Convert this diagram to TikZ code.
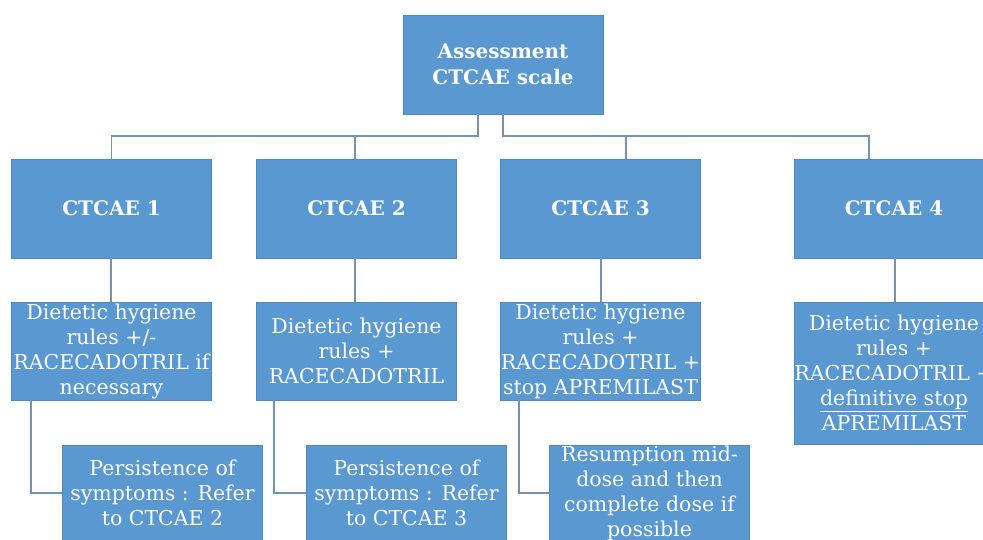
\documentclass[tikz,border=0pt]{standalone}
\usepackage{fontspec}
\setmainfont{DejaVu Serif}
\definecolor{boxblue}{HTML}{5A98D2}
\definecolor{boxedge}{HTML}{4D89C2}
\definecolor{linecol}{HTML}{7393B3}
\begin{document}
\begin{tikzpicture}[x=1pt,y=-1pt,
  box/.style={rectangle,fill=boxblue,draw=boxedge,line width=0.6pt,text=white,
    align=center,inner sep=0pt,minimum width=200pt,
    font=\fontsize{20.5}{25}\selectfont},
  hbox/.style={box,font=\fontsize{20}{26}\selectfont\bfseries},
  conn/.style={draw=linecol,line width=1.6pt}]
\useasboundingbox (0,0) rectangle (983,540);
\begin{scope}
\clip (0,0) rectangle (983,540);
% top
\node[hbox,minimum height=99pt] (top) at (503,64.5) {Assessment\\CTCAE scale};
% level 1
\node[hbox,minimum height=99pt] (c1) at (111.5,208.5) {CTCAE 1};
\node[hbox,minimum height=99pt] (c2) at (356.5,208.5) {CTCAE 2};
\node[hbox,minimum height=99pt] (c3) at (600.5,208.5) {CTCAE 3};
\node[hbox,minimum height=99pt] (c4) at (894,208.5) {CTCAE 4};
% level 2
\node[box,minimum height=98pt] (d1) at (111.5,351) {Dietetic hygiene\\rules +/-\\RACECADOTRIL if\\necessary};
\node[box,minimum height=98pt] (d2) at (356.5,351) {Dietetic hygiene\\rules +\\RACECADOTRIL};
\node[box,minimum height=98pt] (d3) at (600.5,351) {Dietetic hygiene\\rules +\\RACECADOTRIL +\\stop APREMILAST};
\node[box,minimum height=142pt] (d4) at (894,373) {Dietetic hygiene\\rules +\\RACECADOTRIL +\\\underline{definitive stop}\\APREMILAST};
% level 3
\node[box,minimum height=96pt] (e1) at (162.5,493) {Persistence of\\symptoms : Refer\\to CTCAE 2};
\node[box,minimum height=96pt] (e2) at (406.5,493) {Persistence of\\symptoms : Refer\\to CTCAE 3};
\node[box,minimum height=96pt] (e3) at (649.5,493) {Resumption mid-\\dose and then\\complete dose if\\possible};
% connectors
\coordinate (j) at (478,136);
\coordinate (k) at (503,136);
\draw[conn] (478,0 |- top.south) -- (j) -| (c1.north);
\draw[conn] (j) -| (355,0 |- c2.north);
\draw[conn] (503,0 |- top.south) -- (k) -| (626,0 |- c3.north);
\draw[conn] (k) -| (869,0 |- c4.north);
\draw[conn] (111,0 |- c1.south) -- (111,0 |- d1.north);
\draw[conn] (355,0 |- c2.south) -- (355,0 |- d2.north);
\draw[conn] (601,0 |- c3.south) -- (601,0 |- d3.north);
\draw[conn] (895,0 |- c4.south) -- (895,0 |- d4.north);
\draw[conn] (31,0 |- d1.south) |- (e1.west);
\draw[conn] (274,0 |- d2.south) |- (e2.west);
\draw[conn] (519,0 |- d3.south) |- (e3.west);
\end{scope}
\end{tikzpicture}
\end{document}
